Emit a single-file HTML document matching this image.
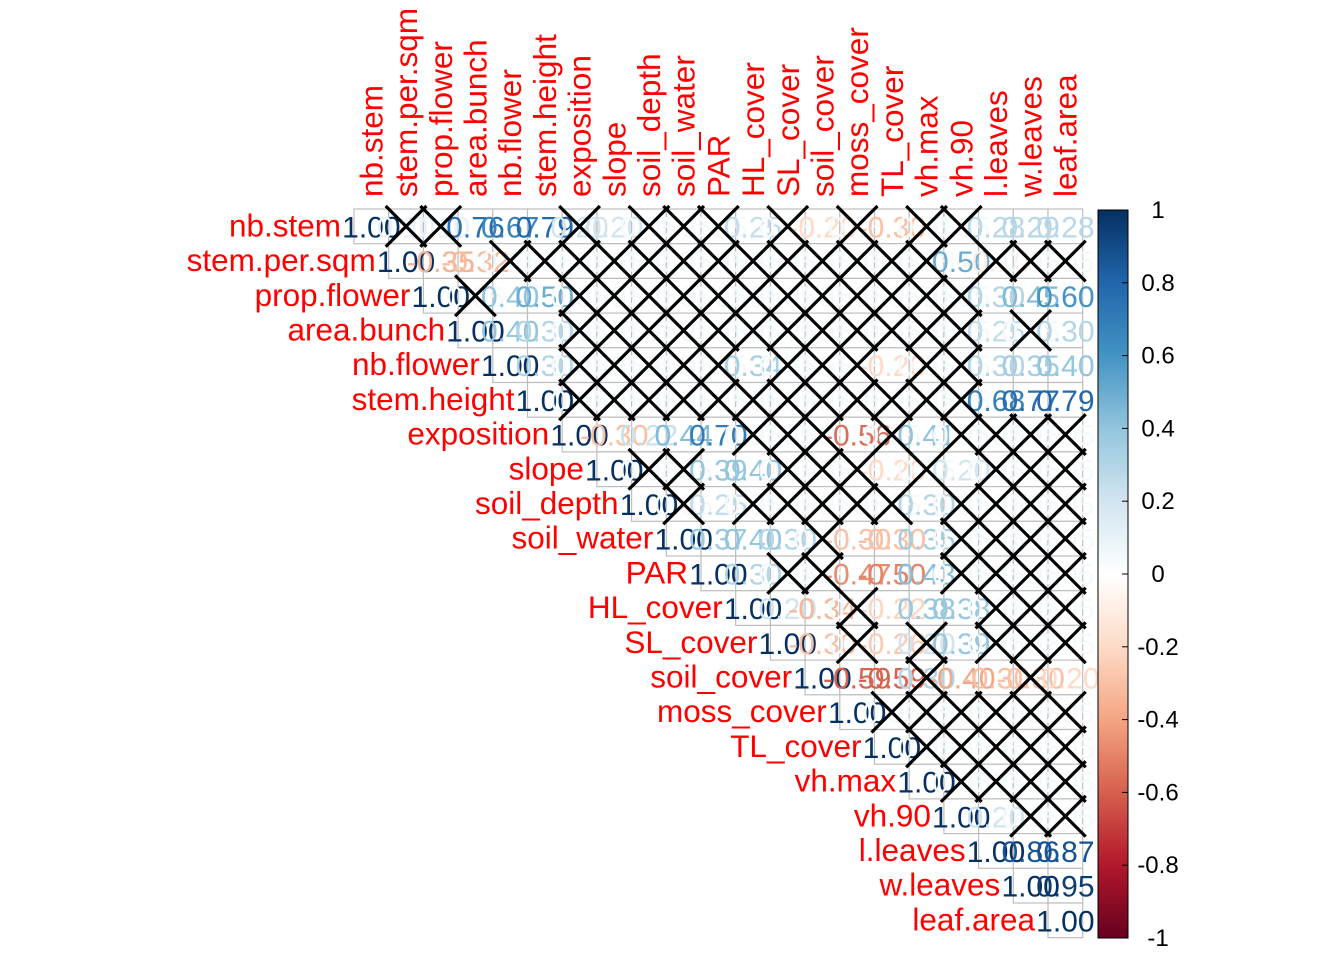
<!DOCTYPE html>
<html><head><meta charset="utf-8">
<style>
html,body{margin:0;padding:0;background:#fff;}
svg{display:block;}
</style></head>
<body>
<svg id="s" width="1344" height="960" xmlns="http://www.w3.org/2000/svg" font-family="Liberation Sans, Arial, sans-serif"></svg>
<script>
var names=["nb.stem","stem.per.sqm","prop.flower","area.bunch","nb.flower","stem.height","exposition","slope","soil_depth","soil_water","PAR","HL_cover","SL_cover","soil_cover","moss_cover","TL_cover","vh.max","vh.90","l.leaves","w.leaves","leaf.area"];
var N=21,x0=354,y0=209,s=34.7;
var X={
0:[1,2,6,8,9,10,12,14,16,17],
1:[4,5,6,7,8,9,10,11,12,13,14,15,16,18,19,20],
2:[3,6,7,8,9,10,11,12,13,14,15,16,17],
3:[6,7,8,9,10,11,12,13,14,15,16,17,19],
4:[6,7,8,9,10,12,13,14,16,17],
5:[6,7,8,9,10,11,12,13,14,15,16,17],
6:[11,12,13,15,17,18,19,20],
7:[8,9,12,13,14,16,18,19,20],
8:[9,11,12,13,14,15,17,18,19,20],
9:[13,17,18,19,20],
10:[12,13,17,18,19,20],
11:[14,18,19,20],
12:[14,16,18,19,20],
13:[16,19],
14:[15,16,17,18,19,20],
15:[16,17,18,19,20],
16:[17,18,19,20],
17:[19,20],
18:[],19:[],20:[]};
var V={
0:{1:.1,2:.1,3:.76,4:.67,5:.79,6:.2,7:.2,11:.25,13:-.2,15:-.3,18:.28,19:.29,20:.28},
1:{2:-.35,3:-.32,17:.5,18:-.1},
2:{4:.4,5:.5,18:.3,19:.45,20:.6},
3:{4:.4,5:.3,18:.25,20:.3},
4:{5:.3,11:.34,15:-.2,18:.3,19:.35,20:.4},
5:{18:.68,19:.77,20:.79},
6:{7:-.3,8:.22,9:.44,10:.7,14:-.56,16:.41},
7:{10:.39,11:.4,15:-.2,17:.2},
8:{10:.25,16:.3},
9:{10:.37,11:.4,12:.3,14:-.3,15:-.3,16:.35},
10:{11:.3,14:-.47,15:-.5,16:.43},
11:{12:.2,13:-.34,15:-.22,16:.38,17:.38},
12:{13:-.3,15:-.26,16:.2,17:.39},
13:{14:-.59,15:-.59,16:.3,17:-.4,18:-.3,19:-.3,20:-.2},
17:{18:.2},18:{19:.86,20:.87},19:{20:.95}};
var pal=["#67001F","#B2182B","#D6604D","#F4A582","#FDDBC7","#FFFFFF","#D1E5F0","#92C5DE","#4393C3","#2166AC","#053061"];
function hx(c){return [parseInt(c.substr(1,2),16),parseInt(c.substr(3,2),16),parseInt(c.substr(5,2),16)];}
function col(v){var t=(v+1)*5;var i=Math.min(9,Math.floor(t));var f=t-i;var a=hx(pal[i]),b=hx(pal[i+1]);
return "rgb("+a.map(function(q,k){return Math.round(q+(b[k]-q)*f);}).join(",")+")";}
var o="";
for(var i=0;i<N;i++)for(var j=i;j<N;j++){o+='<rect x="'+(x0+j*s)+'" y="'+(y0+i*s)+'" width="'+s+'" height="'+s+'" fill="#fff" stroke="#BEBEBE" stroke-width="1.2"/>';}
for(var i=0;i<N;i++)for(var j=i;j<N;j++){var v=(i==j)?1:((V[i]&&V[i][j]!==undefined)?V[i][j]:0.05);
var t=v.toFixed(2);if(v<0)t="-"+Math.abs(v).toFixed(2);
o+='<text x="'+(x0+j*s+s/2)+'" y="'+(y0+i*s+s/2+11)+'" font-size="30" text-anchor="middle" fill="'+col(v)+'">'+t+'</text>';}
for(var i=0;i<N;i++){var a=X[i]||[];for(var k=0;k<a.length;k++){var j=a[k];var L=x0+j*s,T=y0+i*s;
o+='<path d="M'+(L-3)+' '+(T-3)+'L'+(L+s+3)+' '+(T+s+3)+'M'+(L+s+3)+' '+(T-3)+'L'+(L-3)+' '+(T+s+3)+'" stroke="#000" stroke-width="3.2" fill="none"/>';}}
for(var i=0;i<N;i++){o+='<text x="'+(x0+i*s-13)+'" y="'+(y0+i*s+s/2+10)+'" font-size="31.5" text-anchor="end" fill="#FF0000">'+names[i]+'</text>';}
for(var j=0;j<N;j++){var cx=x0+j*s+s/2+11;o+='<text transform="translate('+cx+',197) rotate(-90)" font-size="31.5" fill="#FF0000">'+names[j]+'</text>';}
o+='<defs><linearGradient id="g" x1="0" y1="0" x2="0" y2="1">';
for(var k=0;k<=10;k++){o+='<stop offset="'+(k/10)+'" stop-color="'+pal[10-k]+'"/>';}
o+='</linearGradient></defs>';
o+='<rect x="1098" y="210" width="30" height="728" fill="url(#g)" stroke="#000" stroke-width="1"/>';
var labs=["1","0.8","0.6","0.4","0.2","0","-0.2","-0.4","-0.6","-0.8","-1"];
for(var k=0;k<11;k++){var y=210+k*72.8;o+='<line x1="1122" y1="'+y+'" x2="1128" y2="'+y+'" stroke="#000" stroke-width="1"/>';
o+='<text x="1158" y="'+(y+8)+'" font-size="24" text-anchor="middle" fill="#000">'+labs[k]+'</text>';}
document.getElementById("s").innerHTML=o;
</script>
</body></html>
